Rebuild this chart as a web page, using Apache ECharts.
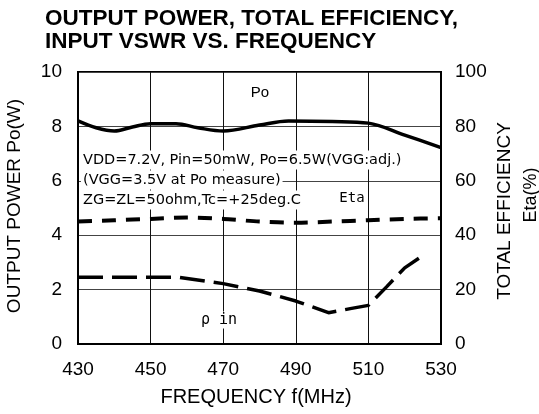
<!DOCTYPE html>
<html>
<head>
<meta charset="utf-8">
<script src="https://cdn.jsdelivr.net/npm/echarts@6/dist/echarts.min.js"></script>
<style>html,body{margin:0;padding:0;background:#fff;}#c{width:539px;height:414px;}</style>
</head>
<body>
<div id="c"></div>
<script>
// ---- data ----
var xTicks = [430, 450, 470, 490, 510, 530];
var leftTicks = [0, 2, 4, 6, 8, 10];
var rightTicks = [0, 20, 40, 60, 80, 100];

var poFreq = [430, 435, 440, 445, 450, 457, 463, 470, 480, 488, 500, 510, 520, 530];
var poVal  = [8.2, 7.95, 7.83, 7.98, 8.1, 8.1, 7.95, 7.83, 8.05, 8.2, 8.18, 8.12, 7.68, 7.22];

var etaFreq = [430, 440, 450, 460, 470, 480, 490, 500, 510, 520, 530];
var etaVal  = [45, 45.5, 46, 46.5, 46, 45, 44.6, 45, 45.5, 46, 46.2];

var rinFreq = [430, 440, 450, 458, 470, 480, 490, 499, 505, 510, 515, 520, 525.5];
var rinVal  = [2.45, 2.45, 2.45, 2.45, 2.22, 1.95, 1.58, 1.15, 1.3, 1.42, 2.1, 2.8, 3.3];

function pairs(xs, ys) { return xs.map(function (x, i) { return [x, ys[i]]; }); }

var chart = echarts.init(document.getElementById('c'), null, {renderer: 'canvas'});
var F = 'Liberation Sans, Arial, sans-serif';
var lbl = {color: '#000', fontFamily: F, fontSize: 19};
var grid = {left: 78, right: 98, top: 72, bottom: 70, show: true, borderColor: '#000', borderWidth: 2, backgroundColor: 'transparent'};

chart.setOption({
  animation: false,
  backgroundColor: '#fff',
  grid: grid,
  xAxis: {
    type: 'value', min: xTicks[0], max: xTicks[xTicks.length - 1], interval: 20,
    axisLine: {show: true, lineStyle: {color: '#000', width: 2}},
    axisTick: {show: false},
    axisLabel: Object.assign({margin: 16}, lbl),
    splitLine: {show: true, lineStyle: {color: '#111', width: 1}}
  },
  yAxis: [{
    type: 'value', min: leftTicks[0], max: leftTicks[leftTicks.length - 1], interval: 2,
    axisLine: {show: true, lineStyle: {color: '#000', width: 2}},
    axisTick: {show: false},
    axisLabel: Object.assign({margin: 16}, lbl),
    splitLine: {show: true, lineStyle: {color: '#444', width: 1}}
  }, {
    type: 'value', min: rightTicks[0], max: rightTicks[rightTicks.length - 1], interval: 20,
    position: 'right',
    axisLine: {show: true, lineStyle: {color: '#000', width: 2}},
    axisTick: {show: false},
    axisLabel: Object.assign({margin: 14}, lbl),
    splitLine: {show: false}
  }],
  series: [{
    name: 'Po', type: 'line', yAxisIndex: 0, smooth: 0.35, showSymbol: false,
    data: pairs(poFreq, poVal),
    lineStyle: {color: '#000', width: 3.5}, z: 5
  }, {
    name: 'Eta', type: 'line', yAxisIndex: 1, smooth: 0.3, showSymbol: false,
    data: pairs(etaFreq, etaVal),
    lineStyle: {color: '#000', width: 4, type: [14, 10], cap: 'butt'}, z: 5
  }, {
    name: 'rin', type: 'line', yAxisIndex: 0, smooth: false, showSymbol: false,
    data: pairs(rinFreq, rinVal),
    lineStyle: {color: '#000', width: 3.5, type: [25, 9], cap: 'butt'}, z: 5
  }],
  graphic: [
    {type: 'text', left: 45, top: 7, z: 10, style: {text: 'OUTPUT POWER, TOTAL EFFICIENCY,\nINPUT VSWR VS. FREQUENCY', font: 'bold 22.5px Liberation Sans, Arial, sans-serif', fill: '#000', lineHeight: 23}},
    {type: 'text', x: 15, y: 206, rotation: Math.PI / 2, z: 10, style: {text: 'OUTPUT POWER Po(W)', font: '19px Liberation Sans, Arial, sans-serif', fill: '#000', align: 'center', verticalAlign: 'middle'}},
    {type: 'text', x: 505, y: 211, rotation: Math.PI / 2, z: 10, style: {text: 'TOTAL EFFICIENCY', font: '19px Liberation Sans, Arial, sans-serif', fill: '#000', align: 'center', verticalAlign: 'middle'}},
    {type: 'text', x: 531, y: 195, rotation: Math.PI / 2, z: 10, style: {text: 'Eta(%)', font: '18px Liberation Sans, Arial, sans-serif', fill: '#000', align: 'center', verticalAlign: 'middle'}},
    {type: 'text', x: 256, y: 397, z: 10, style: {text: 'FREQUENCY f(MHz)', font: '20px Liberation Sans, Arial, sans-serif', fill: '#000', align: 'center', verticalAlign: 'middle'}},
    {type: 'text', x: 81, y: 160, z: 10, style: {text: 'VDD=7.2V, Pin=50mW, Po=6.5W(VGG:adj.)', font: '14.5px DejaVu Sans, sans-serif', fill: '#000', verticalAlign: 'middle', backgroundColor: '#fff', padding: [2, 2]}},
    {type: 'text', x: 81, y: 180, z: 10, style: {text: '(VGG=3.5V at Po measure)', font: '14.5px DejaVu Sans, sans-serif', fill: '#000', verticalAlign: 'middle', backgroundColor: '#fff', padding: [2, 2]}},
    {type: 'text', x: 81, y: 200, z: 10, style: {text: 'ZG=ZL=50ohm,Tc=+25deg.C', font: '14.5px DejaVu Sans, sans-serif', fill: '#000', verticalAlign: 'middle', backgroundColor: '#fff', padding: [2, 2]}},
    {type: 'text', x: 260, y: 93, z: 10, style: {text: 'Po', font: '15px Liberation Sans, Arial, sans-serif', fill: '#000', align: 'center', verticalAlign: 'middle'}},
    {type: 'text', x: 352, y: 198, z: 10, style: {text: 'Eta', font: '14px DejaVu Sans Mono, monospace', fill: '#000', align: 'center', verticalAlign: 'middle', backgroundColor: '#fff', padding: [1, 2]}},
    {type: 'text', x: 219, y: 320, z: 10, style: {text: 'ρ in', font: '15px DejaVu Sans Mono, monospace', fill: '#000', align: 'center', verticalAlign: 'middle', backgroundColor: '#fff', padding: [1, 2]}}
  ]
});
</script>
</body>
</html>
